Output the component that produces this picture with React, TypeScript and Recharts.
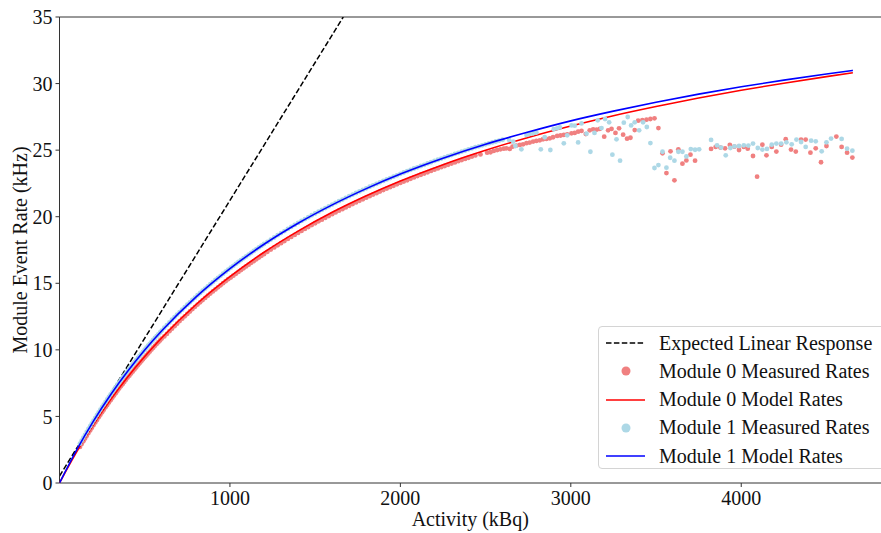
import { ComposedChart, Line, Scatter, XAxis, YAxis, ReferenceLine } from 'recharts'

// expected linear response (kBq -> kHz)
const linearActivity = [0, 1665]
const linearRate = [0.52, 35]

// model curves
const modelActivity = [0, 100, 200, 300, 400, 500, 600, 800, 1000, 1200, 1400, 1600, 1800, 2000, 2250, 2500, 2750, 3000, 3250, 3500, 3750, 4000, 4250, 4500, 4655]
const m0ModelRate = [0, 2.32, 4.39, 6.26, 7.96, 9.5, 10.91, 13.39, 15.5, 17.33, 18.92, 20.33, 21.57, 22.68, 23.91, 24.99, 25.95, 26.81, 27.59, 28.28, 28.92, 29.5, 30.03, 30.52, 30.81]
const m1ModelRate = [0, 2.47, 4.67, 6.63, 8.39, 9.99, 11.43, 13.96, 16.1, 17.93, 19.51, 20.89, 22.11, 23.2, 24.39, 25.44, 26.36, 27.2, 27.93, 28.6, 29.21, 29.76, 30.26, 30.72, 30.99]

// measured rates, low activity part (dense)
const denseActivity = [
  120, 130, 140, 150, 160, 170, 180, 190, 200, 210, 220, 230, 240, 250, 260, 270, 280, 290, 300, 310,
  320, 330, 340, 350, 360, 370, 380, 390, 400, 410, 420, 430, 440, 450, 460, 470, 480, 490, 500, 510,
  520, 530, 540, 550, 560, 570, 580, 590, 600,
  615, 630, 645, 660, 675, 690, 705, 720, 735, 750, 765, 780, 795, 810, 825, 840, 855, 870, 885, 900,
  915, 930, 945, 960, 975, 990, 1005, 1020, 1035, 1050, 1065, 1080, 1095, 1110, 1125, 1140, 1155, 1170, 1185, 1200,
  1220, 1240, 1260, 1280, 1300, 1320, 1340, 1360, 1380, 1400, 1420, 1440, 1460, 1480, 1500, 1520, 1540, 1560, 1580, 1600,
  1620, 1640, 1660, 1680, 1700, 1720, 1740, 1760, 1780, 1800, 1820, 1840, 1860, 1880, 1900, 1920, 1940, 1960, 1980, 2000,
  2020, 2040, 2060, 2080, 2100, 2120, 2140, 2160, 2180, 2200, 2220, 2240, 2260, 2280, 2300, 2320, 2340, 2360, 2380, 2400,
  2420, 2440]
const m0DenseRate = [
  2.71, 2.92, 3.13, 3.34, 3.55, 3.75, 3.95, 4.15, 4.35, 4.55, 4.74, 4.93, 5.12, 5.31, 5.5, 5.68, 5.86, 6.04, 6.22, 6.4,
  6.57, 6.75, 6.92, 7.09, 7.26, 7.42, 7.59, 7.75, 7.92, 8.06, 8.22, 8.37, 8.53, 8.68, 8.84, 8.99, 9.14, 9.29, 9.44, 9.58,
  9.73, 9.87, 10.02, 10.16, 10.3, 10.44, 10.57, 10.71, 10.85,
  11.01, 11.2, 11.4, 11.59, 11.78, 11.97, 12.16, 12.34, 12.52, 12.7, 12.88, 13.06, 13.23, 13.4, 13.57, 13.74, 13.9, 14.07, 14.23, 14.39,
  14.54, 14.7, 14.85, 15.01, 15.16, 15.31, 15.43, 15.57, 15.71, 15.85, 15.99, 16.13, 16.27, 16.4, 16.54, 16.67, 16.8, 16.93, 17.06, 17.19,
  17.36, 17.53, 17.69, 17.85, 18.01, 18.17, 18.33, 18.48, 18.63, 18.78, 18.93, 19.08, 19.22, 19.37, 19.51, 19.65, 19.78, 19.92, 20.05, 20.19,
  20.32, 20.45, 20.57, 20.7, 20.82, 20.95, 21.07, 21.19, 21.31, 21.43, 21.54, 21.66, 21.77, 21.89, 22.0, 22.11, 22.22, 22.32, 22.43, 22.54,
  22.64, 22.74, 22.85, 22.95, 23.05, 23.15, 23.24, 23.34, 23.44, 23.53, 23.63, 23.72, 23.81, 23.9, 23.99, 24.08, 24.17, 24.26, 24.34, 24.43,
  24.52, 24.6]
const m1DenseRate = [
  2.95, 3.18, 3.4, 3.62, 3.84, 4.06, 4.27, 4.48, 4.69, 4.89, 5.1, 5.3, 5.5, 5.7, 5.89, 6.08, 6.27, 6.46, 6.65, 6.83,
  7.02, 7.2, 7.38, 7.55, 7.73, 7.9, 8.08, 8.24, 8.41, 8.58, 8.74, 8.91, 9.07, 9.23, 9.39, 9.54, 9.7, 9.85, 10.01, 10.16,
  10.31, 10.45, 10.6, 10.75, 10.89, 11.03, 11.17, 11.31, 11.45,
  11.66, 11.86, 12.06, 12.26, 12.45, 12.65, 12.84, 13.02, 13.21, 13.39, 13.57, 13.75, 13.92, 14.1, 14.27, 14.44, 14.6, 14.77, 14.93, 15.09,
  15.25, 15.41, 15.56, 15.72, 15.87, 16.02, 16.17, 16.31, 16.46, 16.6, 16.74, 16.88, 17.02, 17.16, 17.29, 17.43, 17.56, 17.69, 17.82, 17.95,
  18.11, 18.28, 18.44, 18.61, 18.77, 18.92, 19.08, 19.23, 19.38, 19.53, 19.68, 19.82, 19.96, 20.11, 20.24, 20.38, 20.52, 20.65, 20.78, 20.91,
  21.04, 21.17, 21.29, 21.42, 21.54, 21.66, 21.78, 21.9, 22.02, 22.13, 22.25, 22.36, 22.47, 22.58, 22.69, 22.8, 22.9, 23.01, 23.11, 23.22,
  23.32, 23.42, 23.52, 23.62, 23.71, 23.81, 23.9, 24.0, 24.09, 24.19, 24.28, 24.37, 24.46, 24.55, 24.63, 24.72, 24.8, 24.89, 24.97, 25.06,
  25.14, 25.22]

// measured rates, high activity part
const m0HighActivity = [2470, 2509, 2529, 2548, 2568, 2587, 2607, 2622, 2642, 2658, 2681, 2701, 2720, 2740, 2759, 2779, 2798, 2818, 2837, 2857,
  2877, 2896, 2920, 2940, 2959, 2979, 3004, 3023, 3043, 3063, 3088, 3111, 3131, 3151, 3170, 3196, 3219, 3239, 3262, 3283,
  3307, 3330, 3350, 3375, 3395, 3420, 3444, 3467, 3491, 3514, 3538, 3561, 3585, 3608, 3631, 3655, 3678, 3702, 3729, 3823,
  3850, 3878, 3905, 3933, 3960, 3987, 4015, 4038, 4069, 4093, 4124, 4148, 4179, 4206, 4234, 4261, 4292, 4320, 4351, 4378,
  4406, 4437, 4468, 4500, 4558, 4589, 4621, 4652]
const m0HighRate = [24.68, 24.81, 24.84, 24.94, 25.01, 25.06, 25.11, 25.14, 25.09, 25.26, 25.34, 25.39, 25.44, 25.52, 25.57, 25.64, 25.69, 25.74, 25.82, 25.84,
  25.89, 25.97, 26.07, 26.1, 26.14, 26.19, 26.26, 26.29, 26.39, 26.44, 26.21, 26.49, 26.56, 26.54, 26.59, 26.01, 26.49, 26.59, 26.29, 26.64,
  26.16, 25.86, 25.93, 26.51, 27.21, 27.26, 27.29, 27.34, 27.39, 26.66, 24.76, 23.28, 24.91, 22.73, 25.06, 23.98, 24.23, 24.66, 24.21, 25.09,
  25.24, 25.19, 25.14, 25.39, 25.26, 25.01, 25.24, 25.11, 24.56, 23.01, 25.41, 24.61, 25.24, 24.89, 25.41, 25.82, 25.04, 24.89, 25.79, 25.79,
  24.81, 25.14, 24.09, 25.31, 26.02, 25.24, 24.81, 24.44]
const m1HighActivity = [2460, 2480, 2500, 2520, 2540, 2560, 2580, 2600, 2638, 2662, 2675, 2710, 2740, 2759, 2779, 2798, 2824, 2847,
  2880, 2900, 2920, 2936, 2959, 2979, 3004, 3023, 3043, 3063, 3092, 3115, 3139, 3158, 3180, 3201, 3225, 3244, 3268, 3289,
  3311, 3334, 3354, 3375, 3401, 3424, 3446, 3467, 3491, 3514, 3538, 3561, 3583, 3608, 3631, 3655, 3678, 3704, 3729, 3753,
  3823, 3858, 3882, 3909, 3936, 3960, 3987, 4015, 4042, 4069, 4097, 4124, 4151, 4179, 4206, 4234, 4265, 4296, 4324, 4351,
  4378, 4410, 4437, 4472, 4500, 4527, 4589, 4621, 4652]
const m1HighRate = [25.29, 25.36, 25.44, 25.51, 25.58, 25.65, 25.72, 25.78, 25.77, 25.64, 25.31, 25.06, 26.14, 26.22, 26.27, 26.32, 25.06, 25.97,
  25.01, 26.57, 26.64, 26.71, 25.51, 26.11, 26.86, 26.84, 25.58, 27.01, 26.24, 24.88, 26.29, 27.24, 26.66, 27.34, 27.09, 24.66, 25.81, 24.21,
  27.06, 27.49, 26.86, 27.09, 26.49, 27.09, 26.74, 25.53, 23.66, 23.88, 24.88, 23.68, 24.43, 24.21, 24.88, 24.88, 24.53, 25.08, 25.03, 25.06,
  25.77, 25.36, 25.19, 24.61, 25.16, 25.29, 25.31, 25.36, 25.34, 25.49, 25.16, 25.04, 25.09, 25.41, 25.49, 25.49, 25.59, 25.44, 25.79, 25.61,
  25.24, 25.71, 25.66, 24.91, 25.59, 25.87, 25.84, 25.11, 24.96]

const xTicks = [1000, 2000, 3000, 4000]
const yTicks = [0, 5, 10, 15, 20, 25, 30, 35]

const zip = (a: number[], r: number[]) => a.map((v, i) => ({ a: v, r: r[i] }))

const linearData = zip(linearActivity, linearRate)
const m0Model = zip(modelActivity, m0ModelRate)
const m1Model = zip(modelActivity, m1ModelRate)
const m0Measured = zip([...denseActivity, ...m0HighActivity], [...m0DenseRate, ...m0HighRate])
const m1Measured = zip([...denseActivity, ...m1HighActivity], [...m1DenseRate, ...m1HighRate])

const W = 881
const H = 533
const X_DOMAIN = [0, 4820]
const Y_DOMAIN = [0, 35]
const FONT = '"Liberation Serif", "Times New Roman", serif'
const RED_DOT = '#F08080'
const BLUE_DOT = '#ADD8E6'

const dot = (fill: string) => (p: any) => <circle cx={p.cx} cy={p.cy} r={2.4} fill={fill} />

const legendItems = [
  { label: 'Expected Linear Response', kind: 'dash', color: '#000' },
  { label: 'Module 0 Measured Rates', kind: 'dot', color: RED_DOT },
  { label: 'Module 0 Model Rates', kind: 'line', color: '#FF0000' },
  { label: 'Module 1 Measured Rates', kind: 'dot', color: BLUE_DOT },
  { label: 'Module 1 Model Rates', kind: 'line', color: '#0000FF' },
]

function LegendBox() {
  return (
    <div style={{
      position: 'absolute', left: 598, top: 326, width: 300, height: 143,
      border: '1px solid #d4d4d4', borderRadius: 4, background: 'rgba(255,255,255,0.85)',
      paddingTop: 2, boxSizing: 'border-box',
    }}>
      {legendItems.map(item => (
        <div key={item.label} style={{ display: 'flex', alignItems: 'center', height: 28.25 }}>
          <svg width={60} height={28} style={{ flex: 'none' }}>
            {item.kind === 'dot' && <circle cx={27} cy={14} r={4.5} fill={item.color} />}
            {item.kind === 'line' && <line x1={7} x2={46} y1={14} y2={14} stroke={item.color} strokeWidth={1.5} />}
            {item.kind === 'dash' && <line x1={7} x2={46} y1={14} y2={14} stroke={item.color} strokeWidth={1.5} strokeDasharray="5.5 2.4" />}
          </svg>
          <span style={{ fontFamily: FONT, fontSize: 20, color: '#111', whiteSpace: 'nowrap' }}>{item.label}</span>
        </div>
      ))}
    </div>
  )
}

// recharts draws scatters above lines, so each later layer is its own chart stacked on top
function Overlay({ children }: { children: any }) {
  return (
    <div style={{ position: 'absolute', left: 0, top: 0 }}>
      <ComposedChart width={W} height={H} margin={{ top: 17, right: 0, bottom: 50, left: 59.5 }}>
        <XAxis hide type="number" dataKey="a" domain={X_DOMAIN} allowDataOverflow />
        <YAxis hide type="number" dataKey="r" domain={Y_DOMAIN} allowDataOverflow />
        {children}
      </ComposedChart>
    </div>
  )
}

export default function App() {
  return (
    <div style={{ position: 'fixed', left: 0, top: 0, width: W, height: H, overflow: 'hidden', background: '#fff' }}>
      <div style={{ position: 'absolute', left: 0, top: 0 }}>
        <ComposedChart width={W} height={H} margin={{ top: 17, right: 0, bottom: 0, left: 0 }}>
          <XAxis
            type="number"
            dataKey="a"
            domain={X_DOMAIN}
            allowDataOverflow
            ticks={xTicks}
            height={50}
            tickSize={4}
            tickMargin={4}
            stroke="#333"
            tick={{ fill: '#111', fontSize: 20, fontFamily: FONT }}
            label={{
              content: ({ viewBox }: any) => (
                <text x={viewBox.x + viewBox.width / 2} y={viewBox.y + 43} textAnchor="middle"
                  fontFamily={FONT} fontSize={20} fill="#111">Activity (kBq)</text>
              ),
            }}
          />
          <YAxis
            type="number"
            dataKey="r"
            domain={Y_DOMAIN}
            allowDataOverflow
            ticks={yTicks}
            width={59.5}
            tickSize={4}
            tickMargin={3}
            stroke="#333"
            tick={{ fill: '#111', fontSize: 20, fontFamily: FONT }}
            label={{
              content: ({ viewBox }: any) => {
                const cx = viewBox.x + 27
                const cy = viewBox.y + viewBox.height / 2
                return (
                  <text x={cx} y={cy} transform={`rotate(-90, ${cx}, ${cy})`} textAnchor="middle"
                    fontFamily={FONT} fontSize={20} fill="#111">Module Event Rate (kHz)</text>
                )
              },
            }}
          />
          <ReferenceLine y={35} stroke="#333" />
          <Line data={linearData} dataKey="r" type="linear" stroke="#000" strokeWidth={1.5}
            strokeDasharray="5.5 2.4" dot={false} activeDot={false} isAnimationActive={false} />
          <Scatter data={m0Measured} dataKey="r" fill={RED_DOT} shape={dot(RED_DOT)} isAnimationActive={false} />
        </ComposedChart>
      </div>
      <Overlay>
        <Line data={m0Model} dataKey="r" type="monotone" stroke="#FF0000" strokeWidth={1.6}
          dot={false} activeDot={false} isAnimationActive={false} />
        <Scatter data={m1Measured} dataKey="r" fill={BLUE_DOT} shape={dot(BLUE_DOT)} isAnimationActive={false} />
      </Overlay>
      <Overlay>
        <Line data={m1Model} dataKey="r" type="monotone" stroke="#0000FF" strokeWidth={1.6}
          dot={false} activeDot={false} isAnimationActive={false} />
      </Overlay>
      <LegendBox />
    </div>
  )
}
